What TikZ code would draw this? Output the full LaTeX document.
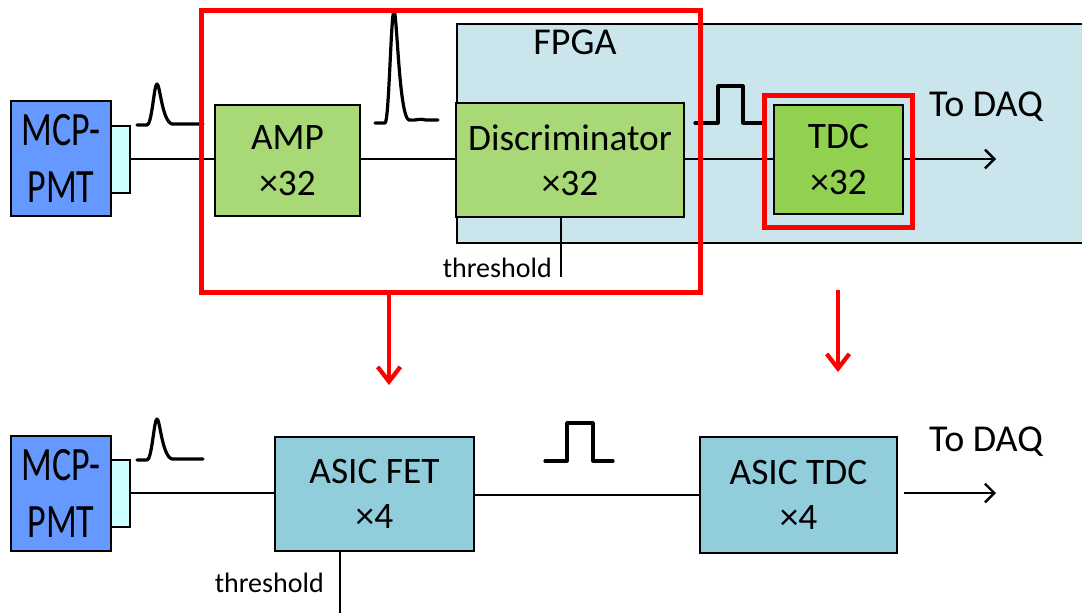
\documentclass[tikz,border=0pt]{standalone}
\usepackage{fontspec}
\setmainfont{Carlito}
\usetikzlibrary{arrows.meta}
\definecolor{mcpblue}{RGB}{102,153,255}
\definecolor{conncyan}{RGB}{204,255,255}
\definecolor{boxgreen}{RGB}{169,217,118}
\definecolor{tdcgreen}{RGB}{146,208,80}
\definecolor{fpgablue}{RGB}{203,229,237}
\definecolor{asicblue}{RGB}{146,205,220}
\begin{document}
\begin{tikzpicture}[x=0.75pt,y=-0.75pt,
  blk/.style={draw=black, line width=1.5pt, align=center, inner sep=0pt,
    font=\fontsize{28}{34}\selectfont},
  mcpbox/.style={blk, fill=mcpblue, minimum width=75pt, minimum height=86.25pt,
    font=\fontsize{27}{43}\selectfont},
  connbox/.style={draw=black, line width=1.5pt, fill=conncyan, inner sep=0pt,
    minimum width=14.25pt, minimum height=50.25pt},
  wire/.style={line width=1.8pt},
  sig/.style={line width=2.4pt, line join=round, line cap=round},
  hl/.style={draw=red, line width=3.5pt},
  redarrow/.style={red, line width=3.5pt, -{Straight Barb[length=11pt,width=17pt,line width=3.2pt]}},
  outarrow/.style={line width=1.8pt, -{Straight Barb[length=7pt,width=14pt]}},
  lbl/.style={font=\fontsize{28.5}{34}\selectfont, inner sep=0pt},
  thr/.style={font=\fontsize{21}{24}\selectfont, inner sep=0pt}]

\clip (0,0) rectangle (1082,612);
\fill[white] (0,0) rectangle (1082,612);

% ---------------- top row ----------------
\node[draw=black, line width=1.5pt, fill=fpgablue, anchor=north west, inner sep=0pt,
  minimum width=483pt, minimum height=164.25pt] (fpga) at (456,23) {};
\node[lbl, anchor=base] (fpgalbl) at (575,54) {FPGA};

\node[mcpbox] (mcp1) at (61,158.5) {\scalebox{1}[1.33]{MCP-}\\\scalebox{1}[1.33]{PMT}};
\node[connbox] (conn1) at (120.5,159.5) {};
\node[blk, fill=boxgreen, minimum width=108.75pt, minimum height=83.25pt] (amp) at (287.5,160.5) {AMP\\×32};
\node[blk, fill=boxgreen, minimum width=171pt, minimum height=85.5pt] (disc) at (570,160) {Discriminator\\×32};
\node[blk, fill=tdcgreen, minimum width=96.75pt, minimum height=81.75pt] (tdc) at (838.5,159.5) {TDC\\×32};

\coordinate (thr1end) at (561,277);
\coordinate (daq1end) at (996,159);
\draw[wire] (conn1.east |- 0,159) -- (amp.west |- 0,159);
\draw[wire] (amp.east |- 0,159) -- (disc.west |- 0,159);
\draw[wire] (disc.east |- 0,159) -- (tdc.west |- 0,159);
\draw[outarrow] (tdc.east |- daq1end) -- (daq1end);
\draw[wire] (disc.south -| thr1end) -- (thr1end);
\node[thr, anchor=base east] (thr1) at (552,277) {threshold};
\node[lbl, anchor=base] (daq1) at (986,116) {To DAQ};

% pulses
\draw[sig] (137,125) -- (147,125) .. controls (152,125) and (154,84) .. (157,84)
  .. controls (160,84) and (162,121) .. (172,124) -- (203,124);
\draw[sig] (375,123) -- (385,123) .. controls (389,123) and (391,11) .. (394,11)
  .. controls (397,11) and (399,117) .. (409,120) .. controls (415,121) and (420,118) .. (426,120) -- (438,120);
\draw[sig] (695,123) -- (718,123) -- (718,86) -- (743,86) -- (743,123) -- (762,123);

% red highlights
\node[hl, anchor=north west, inner sep=0pt, minimum width=374.25pt, minimum height=211.5pt] (redbig) at (199,8) {};
\node[hl, anchor=north west, inner sep=0pt, minimum width=111pt, minimum height=99pt] (redsmall) at (762,93) {};
\coordinate (rarrL) at (389,385);
\coordinate (rarrRs) at (838,290);
\coordinate (rarrR) at (838,372);
\draw[redarrow] (redbig.south -| rarrL) -- (rarrL);
\draw[redarrow] (rarrRs) -- (rarrR);

% ---------------- bottom row ----------------
\node[mcpbox] (mcp2) at (61,493.5) {\scalebox{1}[1.33]{MCP-}\\\scalebox{1}[1.33]{PMT}};
\node[connbox] (conn2) at (120.5,493.5) {};
\node[blk, fill=asicblue, minimum width=149.25pt, minimum height=85.5pt] (fet) at (374.5,494) {ASIC FET\\×4};
\node[blk, fill=asicblue, minimum width=147.75pt, minimum height=87pt] (atdc) at (798.5,495) {ASIC TDC\\×4};

\coordinate (thr2end) at (340,620);
\coordinate (daq2end) at (996,493);
\draw[wire] (conn2.east |- 0,493) -- (fet.west |- 0,493);
\draw[wire] (fet.east |- 0,495) -- (atdc.west |- 0,495);
\draw[outarrow] ([xshift=4.5pt]atdc.east |- daq2end) -- (daq2end);
\draw[wire] (fet.south -| thr2end) -- (thr2end);
\node[thr, anchor=base east] (thr2) at (324,592) {threshold};
\node[lbl, anchor=base] (daq2) at (986,451) {To DAQ};

\draw[sig] (137,460) -- (147,460) .. controls (152,460) and (154,419) .. (157,419)
  .. controls (160,419) and (162,456) .. (172,459) -- (203,459);
\draw[sig] (545,461) -- (567,461) -- (567,423) -- (593,423) -- (593,461) -- (613,461);
\end{tikzpicture}
\end{document}
